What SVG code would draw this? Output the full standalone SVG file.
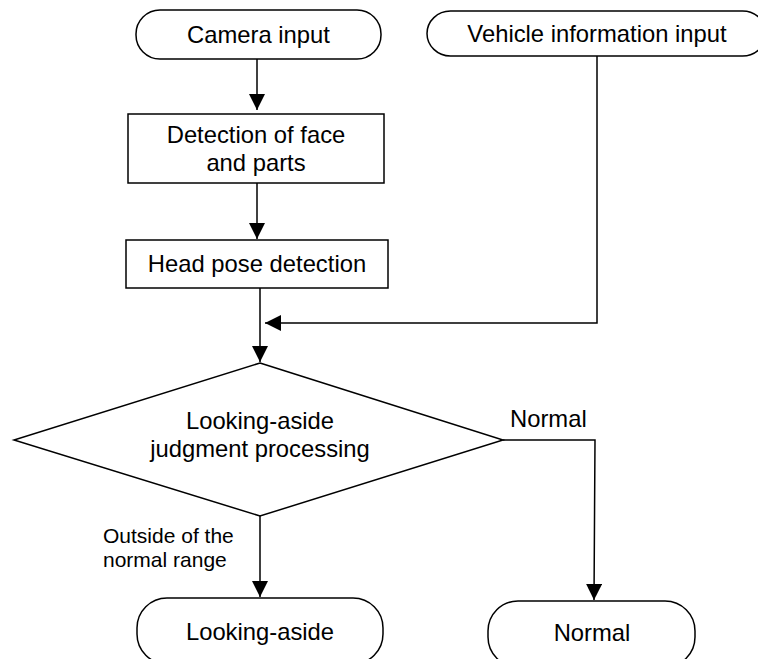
<svg xmlns="http://www.w3.org/2000/svg" width="758" height="659" viewBox="0 0 758 659">
<defs>
<marker id="arr" markerUnits="userSpaceOnUse" markerWidth="16" markerHeight="16" viewBox="0 0 15 15" refX="15" refY="7.5" orient="auto">
<path d="M0,0 L15,7.5 L0,15 Z" fill="#000"/>
</marker>
</defs>
<style>
.s{fill:#fff;stroke:#000;stroke-width:1.5}
.t{font-family:"Liberation Sans",Arial,sans-serif;font-size:23.8px;fill:#000;text-anchor:middle}
.l{font-family:"Liberation Sans",Arial,sans-serif;font-size:21px;fill:#000}
.c{fill:none;stroke:#000;stroke-width:1.5}
</style>
<rect width="758" height="659" fill="#fff"/>
<g id="connectors">
<path class="c" d="M257,59 L257,110" marker-end="url(#arr)"/>
<path class="c" d="M257,183 L257,239" marker-end="url(#arr)"/>
<path class="c" d="M260,288 L260,362" marker-end="url(#arr)"/>
<path class="c" d="M597,56 L597,323 L265,323" marker-end="url(#arr)"/>
<path class="c" d="M503,440 L595,440 L594,600" marker-end="url(#arr)"/>
<path class="c" d="M260,516 L260,597" marker-end="url(#arr)"/>
<text class="l" x="510" y="427" style="font-size:23.8px">Normal</text>
<text class="l" x="103" y="543">Outside of the</text>
<text class="l" x="103" y="567">normal range</text>
</g>
<g id="camera">
<rect class="s" x="136" y="10" width="245" height="49" rx="24" ry="24"/>
<text class="t" x="258.5" y="43">Camera input</text>
</g>
<g id="vehicle">
<rect class="s" x="427" y="11" width="339" height="45" rx="23.5" ry="22.5"/>
<text class="t" x="597" y="42">Vehicle information input</text>
</g>
<g id="detection">
<rect class="s" x="128" y="114" width="256" height="69"/>
<text class="t" x="256" y="143">Detection of face</text>
<text class="t" x="256" y="171">and parts</text>
</g>
<g id="headpose">
<rect class="s" x="126" y="240" width="262" height="48"/>
<text class="t" x="257" y="272">Head pose detection</text>
</g>
<g id="judgment">
<path class="s" d="M260,363 L503,440 L260,516 L14,440 Z"/>
<text class="t" x="260" y="429">Looking-aside</text>
<text class="t" x="260" y="457">judgment processing</text>
</g>
<g id="lookingaside">
<rect class="s" x="137" y="598" width="246" height="66" rx="30" ry="30"/>
<text class="t" x="260" y="640">Looking-aside</text>
</g>
<g id="normal">
<rect class="s" x="488" y="601" width="207" height="66" rx="30" ry="30"/>
<text class="t" x="592" y="641">Normal</text>
</g>
</svg>
